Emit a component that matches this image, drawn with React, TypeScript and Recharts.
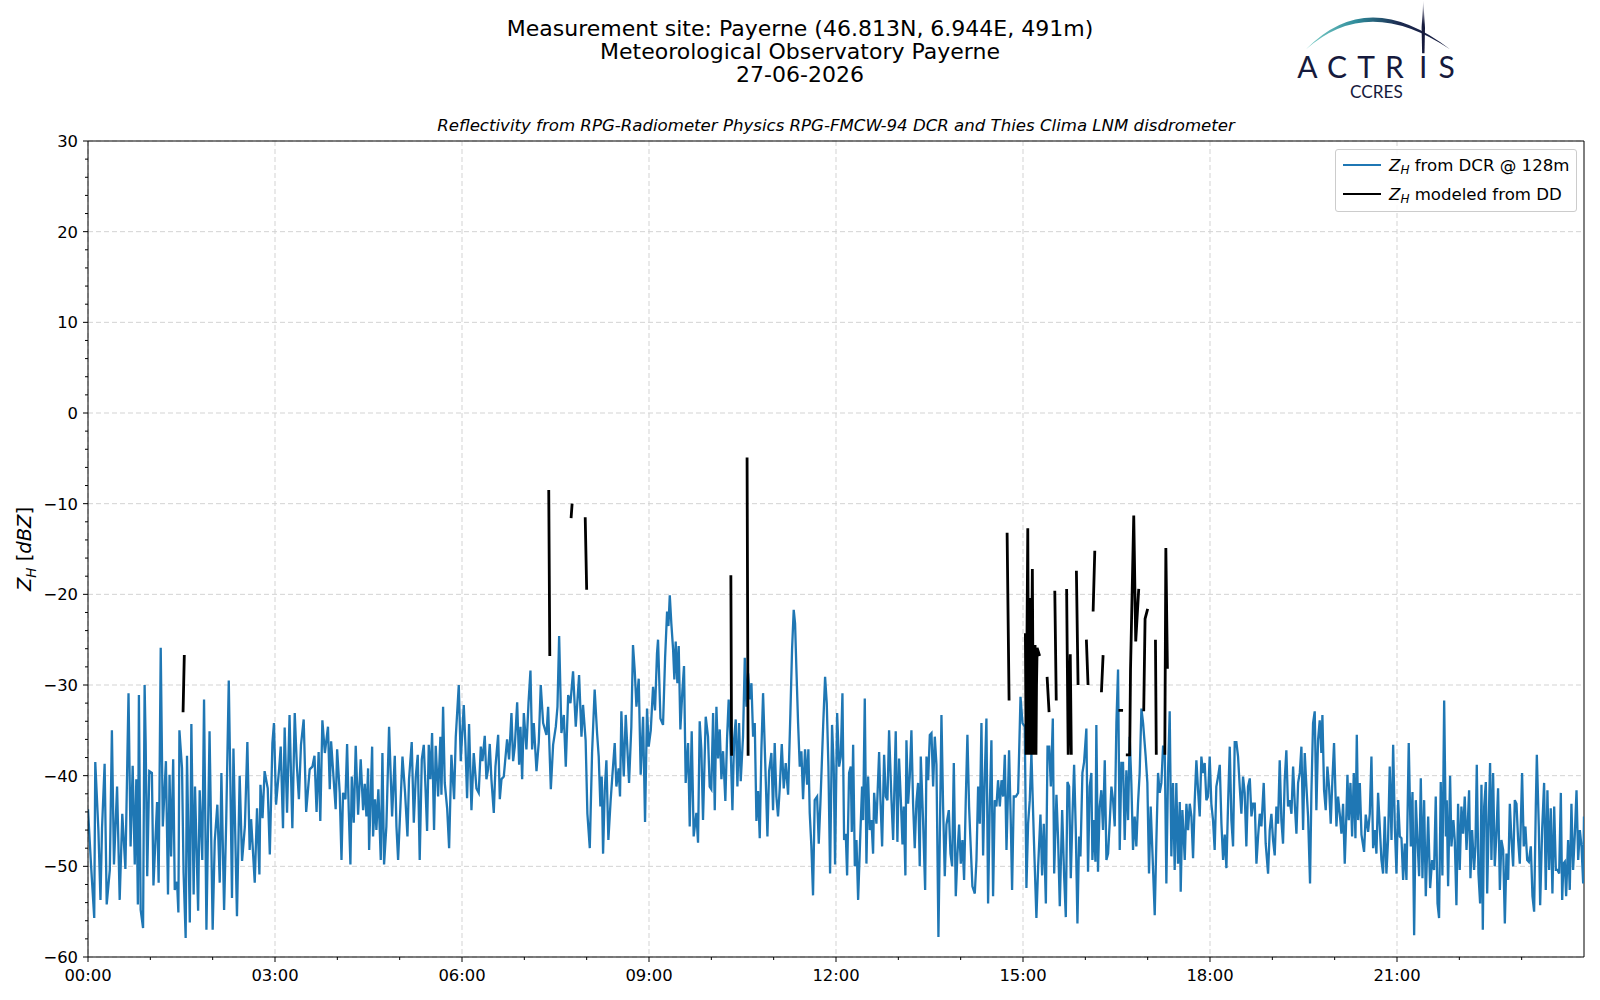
import React from 'react';
import { LineChart, Line, XAxis, YAxis, CartesianGrid, ReferenceLine, Legend } from 'recharts';

const FONT = '"DejaVu Sans", Verdana, sans-serif';
const BLUE = '#1f77b4';
const NAVY = '#161a3d';

// Z_H from the DCR at 128 m: [minutes after 00:00, dBZ]
const dcrNight = [
  [0, -43.7], [3, -50], [6, -55.7], [7, -38.5], [10, -46], [12, -53.7], [13.5, -45.8], [16, -38.7], [18, -54.2], [21, -50.4],
  [23, -35], [25, -49.8], [28, -41.2], [30.5, -53.7], [33, -44.2], [36, -50.3], [39, -30.9], [41, -47.8], [43, -38.9], [45, -49.8],
  [46.5, -40.4], [48, -54.2], [49, -31.1], [50.7, -54.8], [53, -56.8], [54.5, -30], [55.5, -36.3], [57, -51.1], [59, -39.5], [61.5, -39.7],
  [63, -52.1], [66.5, -42.9], [68, -51.8], [70, -25.9], [72, -45.6], [75, -38.4], [77, -53.1], [78.5, -39.9], [80, -48.9], [82, -38.2],
  [83.5, -52.6], [85.7, -51.7], [87, -55.1], [88, -35], [90.5, -39.2], [92, -50.7], [94, -57.9], [95.3, -37.8], [98, -56.2], [99.5, -34.3],
  [101.7, -53.1], [103, -41.2], [106, -54.9], [107.5, -41.6], [110, -49.3], [111.7, -31.6], [114, -57], [115.5, -46.1], [117, -35.1], [120, -57],
  [122, -47.2], [124.5, -43.2], [126.8, -51.8], [128.4, -39.7], [131, -54.8], [133, -45.2], [135.5, -29.5], [137, -40.4], [138.6, -53.5], [140, -37],
  [143.4, -55.5], [146, -40], [148.3, -49.4], [151, -45.6], [153.4, -36.3], [155.6, -48.2], [157, -44.8], [160.5, -51.8], [162.7, -43.6], [165, -50.9],
  [166, -41], [168, -44.7], [170, -39.5], [173, -41.4], [175, -48.7], [177.5, -36.4], [179, -34.2], [181, -43.2], [184, -39.2], [185.5, -36.8],
  [187.7, -45.8], [189.3, -34.7], [191.6, -44.1], [194, -33.3], [196.7, -45.8], [199, -33.1], [201, -38.8], [203, -42.6], [205, -36.6], [207.6, -33.8],
  [210, -44], [213.4, -39.3], [216, -39], [218, -37.8], [220, -44], [222, -37.4], [223.6, -45], [225.6, -33.9], [228, -37.5], [231, -34.6],
  [232.7, -41.5], [234, -36.2], [238.4, -43.7],
];

const dcrMorning = [
  [239.8, -37.1], [242.3, -41.9], [244, -49.3], [245.5, -41.9], [247.8, -42.6], [249.4, -36.5], [251, -43.9], [252.6, -49.8], [253.9, -40.1], [255.8, -45.2],
  [257.7, -36.7], [260, -44.3], [262.5, -38.2], [264.8, -43.8], [266.4, -40.9], [268, -44.5], [269.6, -39.2], [270.6, -48.2], [273.5, -36.8], [274.4, -46.7],
  [276.3, -42.6], [277.6, -46], [279.5, -41.5], [281.8, -49.3], [283.4, -37.5], [285, -49.8], [287.2, -45.6], [289.8, -34.6], [292.7, -44.5], [295.3, -37.8],
  [296.9, -45.6], [298.5, -49.3], [300.7, -43.4], [302.7, -37.9], [305.2, -41.9], [307.5, -46.7], [309, -40.4], [311.6, -36.3], [313.6, -45.2], [315.5, -40.1],
  [317.4, -37.7], [319.3, -49.3], [321.3, -38.2], [323.2, -36.6], [324.8, -41.2], [326.4, -46.1], [328, -36.6], [329.6, -40.4], [331.2, -35.3], [333.1, -46],
  [334.7, -36.7], [337, -42.3], [339.2, -35.7], [340.2, -42.1], [341.8, -32.4], [343.4, -40.8], [345.7, -43.6], [347.6, -48], [349.8, -37.7], [352.4, -42.6],
  [354, -35.7], [356.9, -30], [358.8, -38.4], [361.7, -32.2], [363.3, -36.6], [364.9, -42.5], [366.8, -34.3], [369.1, -43.8], [371.3, -37.5], [373.9, -41.4],
  [376.1, -41.9], [378.1, -36.8], [379.7, -38.4], [381.9, -35.6], [383.5, -40.4], [385.1, -39.3], [386.7, -36.5], [388.3, -40.4], [390.6, -44.1], [392.2, -39],
  [394.8, -35.5], [396.4, -42.6], [398, -40.4], [400.2, -40.1], [403.4, -36], [405.3, -38.2], [407.6, -33.1], [409.2, -38.4], [410.8, -36.8], [413.1, -31.9],
  [415, -38.8], [416.3, -34.6], [417.9, -40.4], [419.5, -33.1], [422, -37.1], [424, -32], [425.9, -28.4], [427.5, -37.1], [429.1, -34.2], [431.7, -39.5],
  [433.9, -36.3], [435.8, -30], [438.1, -34.2], [441.3, -35.5], [442.9, -32.4], [445.5, -41.5], [447.7, -36.6], [450.3, -34.6], [451.9, -32.4], [453.5, -24.6],
  [455.7, -35.3], [458, -33.3], [459.9, -39], [462.2, -31.1], [464.4, -32], [466.9, -28.5], [469.5, -34.6], [472.7, -28.9],
];

const dcrMidday = [
  [475, -35.7], [476.5, -32.2], [479, -36.1], [480.7, -44.2], [483, -48], [485.2, -37.5], [487.7, -30.5], [490, -35.3], [491.6, -37.9], [493.2, -43.4],
  [494.5, -40.1], [495.8, -48.6], [497.4, -41.6], [499, -38.3], [500.9, -47.1], [503.1, -42.7], [504.8, -39.9], [507, -36.4], [508.6, -41.2], [510.8, -39.2],
  [512.1, -42.3], [513.4, -32.9], [515.7, -40.1], [517.6, -33.3], [520.8, -40.8], [523, -34.6], [524.6, -25.6], [526.3, -28.5], [527.9, -32.4], [530.1, -29.3],
  [532, -39.9], [534.3, -33.5], [536.2, -45.1], [538.1, -32.6], [539.7, -36.8], [541.7, -35], [543.9, -30.2], [545.8, -32.8], [547.7, -26.5], [548.7, -25],
  [551, -33.7], [553.5, -34.4], [555.5, -27], [557.4, -21.9], [558.7, -23.5], [560, -20.1], [561.5, -23.2], [563.2, -26.1], [564.4, -29.4], [565.7, -25.2],
  [567.3, -29.8], [568.6, -25.7], [570.2, -34.9], [572.1, -30.7], [573.7, -27.9], [575.3, -40.8], [577.6, -36.4], [579.2, -45.6], [581.1, -35.1], [583, -46.7],
  [585.6, -44.1], [587.2, -47.4], [588.8, -34], [590.4, -37.1], [592, -44.9], [594.6, -33.5], [596.8, -35.7], [598.4, -41.2], [600, -41.5], [601.7, -33.1],
  [603.3, -43.8], [604.9, -32.4], [606.5, -38.1], [608.1, -34.9], [609.7, -40.4], [611.3, -37.3], [613.5, -42.8], [615.1, -36], [616.7, -31.6], [618.3, -35.7],
  [620.3, -43.8], [621.9, -36], [623.5, -33.8], [625.1, -41.2], [626.7, -34.2], [628.3, -40.6], [630.5, -35.7], [632.2, -27], [633.8, -32.4], [635.4, -28.7],
  [637, -31.6], [638.6, -29.8], [640.2, -35.7], [641.8, -34.2], [643.4, -45], [645, -41.7], [646.6, -46.9], [648.2, -37.1], [649.8, -30.9], [652, -39],
  [654, -46.7], [655.6, -39.5], [657.8, -37.5], [659.4, -43.8], [661, -36.4], [662.6, -42.3], [664.2, -44.5], [665.8, -41.5], [667.8, -36.5], [669.7, -41.4],
  [671.6, -38.6], [673.9, -42.1], [676.1, -33.1], [677.7, -26.1], [679.3, -21.7], [680.6, -23.2], [681.9, -28.3], [683.5, -34.2], [685.1, -39], [686.7, -37.3],
  [688.3, -42.6], [690.2, -37.1], [692.2, -41], [693.4, -37.1], [694.7, -44.1], [696.3, -47.8], [697.9, -53.2], [699.5, -42.7], [701.8, -42.3], [703.4, -47.5],
  [705, -43], [707.6, -34.6], [709.5, -29.1], [711.1, -32], [712.7, -39], [714.3, -50.8], [716.2, -34.4], [717.8, -39],
];

const dcrAfternoon = [
  [719.1, -49.8], [721.1, -33.1], [723, -39], [724.6, -37.9], [726.2, -30.9], [727.8, -47.1], [729.4, -46.4], [730.7, -51], [732.6, -39.7], [734.2, -39],
  [735.2, -46.2], [736.5, -36.6], [738.1, -50], [739.7, -47.1], [741.3, -53.7], [743.5, -46.2], [745.1, -41.2], [746.1, -44.9], [747.7, -31.5], [749.3, -49.7],
  [750.9, -40.1], [752.5, -46], [754.1, -44.9], [755.7, -48.6], [756.7, -41.9], [758.9, -45.3], [761.5, -37.4], [762.8, -42.7], [764.4, -47.8], [766.3, -37.7],
  [767.9, -42.3], [769.5, -42.7], [771.1, -35], [773.4, -42.7], [775, -47.1], [777.5, -35.1], [779.1, -47.3], [780.7, -38.1], [782.4, -42.7], [784, -47.6],
  [785.2, -43.4], [786.8, -51], [787.8, -36.1], [789.4, -43.1], [791, -40.1], [792.6, -35], [794.2, -43.1], [795.8, -48], [797.4, -42.9], [799, -40.8],
  [800.6, -50], [801.6, -37.9], [803.8, -44.9], [805.8, -52.6], [807.1, -37.9], [808.7, -40.5], [810.3, -35.5], [811.9, -35.3], [813.5, -41.2], [815.1, -35.7],
  [816.7, -38.8], [818.6, -57.8], [819.9, -47.1], [821.5, -33.3], [823.1, -43.4], [824.7, -51.1], [826.3, -45.4], [828.6, -43.8], [830.2, -48.6], [831.8, -50],
  [833.4, -38.6], [835.3, -53.3], [836.9, -48.6], [838.5, -45.4], [840.1, -49.7], [841.7, -47.1], [843.3, -51.5], [844.9, -42.7], [846.5, -35.5], [848.1, -43.4],
  [849.4, -47.1], [851.3, -52.2], [853.6, -53], [855.2, -49.3], [856.8, -41.2], [858.4, -45.3], [860, -34.2], [861.6, -48.8], [863.2, -40.1], [864.8, -33.7],
  [866.4, -54.1], [868, -43.4], [869.6, -36.1], [871.2, -53.3], [872.8, -42.7], [874.4, -43.4], [876, -40.5], [877.7, -43.4], [879.3, -40.5], [880.9, -42.3],
  [882.5, -37.7], [884.1, -48.2], [886.6, -37.2], [888.2, -44.9], [889.5, -52.6], [891.1, -42.3], [893.1, -42.3], [895.3, -41.9], [897.6, -31.3], [899.5, -34.2],
  [901.7, -34.6], [903.3, -52.4], [904.9, -45.3], [906.5, -42.7], [908.1, -37.5], [910.4, -46.7], [912.9, -55.7], [914.6, -50], [916.8, -44.3], [918.4, -51],
  [920, -45.3], [922, -54.1], [923.6, -36.8], [925.2, -36.8], [926.8, -41.2], [928.7, -33.7], [930, -50.8], [932.2, -42.1], [933.8, -47.1], [935.4, -54.4],
  [937.7, -43.8], [939.6, -51.1], [941.2, -55.6], [942.8, -40.7], [944.4, -41.2], [946, -51.3], [947.6, -44.5], [949.2, -38.8], [950.8, -46], [952.4, -56.3],
  [954, -46.7], [955.3, -48.9], [957.2, -39.7], [958.8, -38.5],
];

const dcrEvening = [
  [961, -34.8], [962.6, -50.6], [964.2, -41.2], [965.8, -39.7], [966.8, -49.3], [968.4, -44.9], [969.7, -49.5], [970.6, -34.4], [972.2, -50.6], [973.8, -43.4],
  [975.4, -41.6], [977, -46], [978.7, -38.3], [980.3, -49.3], [981.9, -48.6], [983.5, -45.1], [985.1, -41.2], [986.7, -42.7], [988.3, -45.6], [989.9, -34.2],
  [991.5, -28.3], [993.1, -48.2], [994.7, -38.6], [996.3, -38.6], [997.9, -47.1], [999.5, -39.4], [1001.1, -44.9], [1002.7, -35.7], [1004.3, -40.8], [1005.9, -48.2],
  [1007.5, -44.5], [1009.1, -47.8], [1010.7, -43.1], [1012.3, -39.7], [1014, -32.6], [1015.6, -34.2], [1018.1, -37.9], [1019.7, -40.8], [1021.3, -50.8], [1022.9, -43.4],
  [1024.5, -48.2], [1026.8, -55.4], [1028.4, -47.1], [1030, -39.7], [1031.6, -41.9], [1033.2, -40.8], [1034.8, -36.8], [1036.4, -36.8], [1038, -51.9], [1039.6, -39.7],
  [1041.2, -32.9], [1042.8, -48.9], [1044.4, -40.8], [1046, -50.4], [1047.6, -40.8], [1049.2, -49.7], [1050.9, -42.9], [1051.8, -52.8], [1053.4, -43.8], [1055.7, -49.3],
  [1057.3, -43.1], [1058.9, -46], [1060.5, -43.1], [1062.1, -44.5], [1063.7, -49.1], [1065.3, -42.7], [1066.9, -38.3], [1068.5, -41.6], [1070.1, -44.5], [1071.7, -37.9],
  [1073.3, -39.7], [1074.9, -38.6], [1076.5, -42.7], [1078.1, -42.3], [1079.7, -37.9], [1081.3, -43.1], [1082.9, -44.9], [1084.5, -48.2], [1086.1, -41.2], [1087.8, -40.1],
  [1089.4, -38.8], [1091, -45.3], [1092.6, -49.3], [1094.2, -46.5], [1095.8, -50.2], [1097.4, -43.1], [1099, -36.8], [1100.6, -44.9], [1102.2, -47.8], [1103.8, -36.3],
  [1105.4, -36.3], [1107, -37.9], [1108.6, -41.2], [1110.2, -44.2], [1111.8, -40.1], [1113.4, -41.9], [1115, -47.8], [1116.6, -41.2], [1118.3, -40.3], [1119.9, -44.5],
  [1121.5, -43.1], [1123.1, -43.1], [1124.7, -49.7], [1126.3, -46.7], [1127.9, -44.2], [1129.5, -45.6], [1131.7, -40.8], [1133.6, -47.5], [1135.9, -50.8], [1137.5, -46],
  [1139.1, -44.2], [1140.7, -47.1], [1142.3, -48.8], [1143.9, -43.4], [1145.5, -45.3], [1147.1, -38.3], [1148.7, -44.9], [1150.3, -47.5], [1151.9, -40.5], [1153.5, -37.2],
  [1155.1, -43.4], [1156.7, -42.7], [1158.4, -44.2], [1160, -39], [1161.6, -43.1], [1163.2, -46.4], [1164.8, -40.8], [1166.4, -39.7], [1168, -36.8], [1169.6, -46],
  [1171.2, -37.5], [1172.8, -41.2], [1174.4, -44.5], [1176.3, -51.9], [1177.6, -41.9], [1179.2, -34.2], [1180.8, -32.9], [1182.4, -43.8], [1184, -36.1], [1185.6, -33.9],
  [1187.2, -37.5], [1188.2, -33.3], [1189.8, -41.6], [1191.4, -43.8], [1193, -39], [1194.6, -41.2], [1196.2, -45.3], [1197.8, -40.5], [1199.4, -36.4],
];

const dcrLate = [
  [1201.7, -45.6], [1203.3, -42.3], [1204.9, -44.2], [1206.5, -46.4], [1208.1, -43.1], [1209.7, -49.7], [1211.3, -44.2], [1212.3, -39.9], [1213.6, -44.9], [1215.2, -40.8],
  [1216.8, -46.7], [1218.4, -39.7], [1220, -46.9], [1221.3, -35.5], [1222.6, -44.9], [1224.2, -40.8], [1225.8, -46.5], [1228.3, -48.4], [1229.9, -44.3], [1232.2, -46.2],
  [1233.8, -44.2], [1235.4, -37.9], [1237, -48], [1238.6, -46], [1240.2, -48.6], [1241.8, -41.9], [1243.4, -45.6], [1245, -49.3], [1246.6, -50.8], [1248.2, -44.5],
  [1249.8, -50.8], [1251.4, -47.1], [1253, -39], [1254.7, -47.1], [1256.3, -36.6], [1257.9, -45.6], [1259.5, -50.8], [1261.1, -42.7], [1262.7, -46.7], [1264.3, -46.9],
  [1265.9, -51.5], [1267.5, -47.5], [1269.1, -51.5], [1271.3, -36.4], [1273.3, -47.8], [1274.9, -41.8], [1276.5, -57.6], [1278.1, -42.7], [1279.7, -47.1], [1281.3, -51.1],
  [1282.9, -40.3], [1284.5, -51.3], [1286.1, -42.7], [1287.7, -53.3], [1290, -44.5], [1291.9, -52.4], [1293.8, -49.3], [1295.7, -50.4], [1297.3, -42.3], [1299, -54.1],
  [1300.5, -55.7], [1302.1, -40.7], [1303.7, -51], [1305.4, -31.7], [1307, -46.7], [1307.9, -42.7], [1309.2, -52.2], [1311.1, -40], [1312.4, -47.8], [1314.3, -44.9],
  [1315.6, -47.1], [1317.2, -54.3], [1318.8, -43.1], [1320.4, -50.4], [1322, -43.4], [1323.6, -46.4], [1325.2, -42.3], [1326.9, -48.2], [1328.5, -44.2], [1329.4, -41.6],
  [1330.7, -51.3], [1332.3, -46], [1334.2, -50.4], [1335.5, -47.8], [1336.8, -38.8], [1338.4, -50.8], [1340, -54.1], [1341.3, -41], [1342.6, -57], [1343.9, -43.4],
  [1345.5, -40.7], [1346.8, -53], [1348, -46.4], [1349.6, -38.6], [1350.9, -49.3], [1352.5, -39.7], [1354.1, -50], [1355.7, -46.4], [1357.3, -41.4], [1359, -52.6],
  [1360.5, -47.1], [1362.2, -48.2], [1363.8, -56.3], [1365.4, -48.6], [1367, -51.5], [1368.6, -43.1], [1370.2, -47.1], [1371.8, -50], [1373.4, -42.7], [1375, -43.1],
  [1376.6, -47.1], [1378.2, -49.7], [1380.4, -39.7], [1382, -47.8], [1383.6, -45.6], [1385.3, -49.3], [1386.9, -49.5], [1388.8, -47.8], [1390.4, -53.3], [1392, -55],
  [1393.6, -43.4], [1394.6, -37.7], [1396.5, -45.6], [1397.8, -54.3], [1399.7, -46], [1401.6, -40.8], [1403.2, -52.6], [1404.8, -41.6], [1406.4, -50.4], [1408, -43.6],
  [1409.6, -53], [1411.3, -43.4], [1412.9, -50.4], [1414.5, -50.4], [1416.1, -50.8], [1417.7, -41.9], [1419, -53.7], [1420.2, -49.7], [1421.5, -49.5], [1422.8, -53.3],
  [1424.7, -47.1], [1426.3, -52.6], [1427.9, -43.1], [1429.5, -50.4], [1431.2, -46.4], [1432.8, -41.6], [1434.4, -49.3], [1436, -46], [1437.6, -47.8], [1439.2, -51.9],
  [1440, -44.5],
];

// Z_H modeled from the disdrometer: only present during rain, one list per continuous piece
const ddSegments = [
  [[91.5, -33], [92.7, -26.7]],
  [[443.5, -8.5], [444.5, -26.8]],
  [[465, -11.6], [466, -10]],
  [[478.6, -11.5], [480, -19.5]],
  [[618.8, -17.9], [619.5, -37.8]],
  [[634.4, -4.9], [635.4, -37.8]],
  [[884.7, -13.2], [886.6, -31.7]],
  [[902.3, -24.3], [903, -37.7], [904.6, -12.7], [905.5, -37.7], [906.5, -20.4], [907.5, -37.7], [909, -17.2], [910, -37.7],
   [911.6, -25.6], [912.5, -37.7], [913, -30], [913.6, -25.9], [916, -26.8]],
  [[923.2, -29.1], [925.1, -33]],
  [[930.6, -19.6], [932, -31.7]],
  [[942, -19.4], [943.5, -37.7], [945.5, -26.6], [946.5, -37.7]],
  [[951.4, -17.4], [953, -30]],
  [[961, -25], [962.6, -30]],
  [[967.5, -21.9], [969.1, -15.2]],
  [[975.5, -30.8], [977.1, -26.7]],
  [[991.9, -32.8], [996.3, -32.8]],
  [[999, -37.7], [1002.7, -37.7], [1003.5, -28.3], [1006.6, -11.3], [1008.5, -25.2], [1011.4, -19.4]],
  [[1016.2, -32.9], [1017.5, -22.7], [1020, -21.6]],
  [[1027.5, -25], [1028.3, -37.7]],
  [[1036.5, -37.7], [1037.5, -14.9], [1039, -28.2]],
];

const hourTicks = [0, 60, 120, 180, 240, 300, 360, 420, 480, 540, 600, 660, 720, 780, 840, 900, 960, 1020, 1080, 1140, 1200, 1260, 1320, 1380];
const timeLabels = ['00:00', '03:00', '06:00', '09:00', '12:00', '15:00', '18:00', '21:00'];
const gridTimes = [0, 180, 360, 540, 720, 900, 1080, 1260];
const dbzTicks = [
  -60, -58, -56, -54, -52, -50, -48, -46, -44, -42, -40, -38, -36, -34, -32, -30, -28, -26, -24, -22, -20, -18, -16,
  -14, -12, -10, -8, -6, -4, -2, 0, 2, 4, 6, 8, 10, 12, 14, 16, 18, 20, 22, 24, 26, 28, 30,
];
const gridDbz = [-60, -50, -40, -30, -20, -10, 0, 10, 20, 30];

const dcrData = [...dcrNight, ...dcrMorning, ...dcrMidday, ...dcrAfternoon, ...dcrEvening, ...dcrLate].map(([t, z]) => ({ t, z }));
const ddData = ddSegments.flatMap((seg, i) => [
  ...(i > 0 ? [{ t: seg[0][0] - 0.05, z: null as number | null }] : []),
  ...seg.map(([t, z]) => ({ t, z: z as number | null })),
]);

const TimeTick = (props: any) => {
  const { x, y, payload } = props;
  const major = payload.value % 180 === 0;
  return (
    <g>
      <line x1={x} x2={x} y1={y} y2={y + (major ? 5 : 3)} stroke="#000" strokeWidth={1} />
      {major && (
        <text x={x} y={y + 23.5} textAnchor="middle" fontSize={16.4} fontFamily={FONT} fill="#000">
          {timeLabels[payload.value / 180]}
        </text>
      )}
    </g>
  );
};

const DbzTick = (props: any) => {
  const { x, y, payload } = props;
  const v = payload.value;
  const major = v % 10 === 0;
  return (
    <g>
      <line x1={x - (major ? 5 : 3)} x2={x} y1={y} y2={y} stroke="#000" strokeWidth={1} />
      {major && (
        <text x={x - 10} y={y} dy="0.36em" textAnchor="end" fontSize={16.4} fontFamily={FONT} fill="#000">
          {v < 0 ? `\u2212${-v}` : `${v}`}
        </text>
      )}
    </g>
  );
};

const LegendBox = () => {
  const row = (color: string, text: string, top: number) => (
    <div style={{ position: 'absolute', left: 0, top, height: 22, display: 'flex', alignItems: 'center' }}>
      <div style={{ width: 38, height: 0, borderTop: `2.4px solid ${color}`, marginLeft: 7, marginRight: 8 }} />
      <span style={{ fontFamily: FONT, fontSize: 16.6, color: '#000', whiteSpace: 'nowrap' }}>
        <i>Z</i>
        <i style={{ fontSize: 12, position: 'relative', top: 3 }}>H</i>
        {text}
      </span>
    </div>
  );
  return (
    <div
      style={{
        position: 'relative',
        width: 242,
        height: 63,
        boxSizing: 'border-box',
        border: '1px solid #cccccc',
        borderRadius: 3,
        background: 'rgba(255,255,255,0.85)',
      }}
    >
      {row(BLUE, ' from DCR @ 128m', 4)}
      {row('#000', ' modeled from DD', 33)}
    </div>
  );
};

const Decorations = () => (
  <svg width={1600} height={1000} style={{ position: 'absolute', left: 0, top: 0, pointerEvents: 'none' }}>
    <defs>
      <linearGradient id="arcGrad" x1="1306" y1="0" x2="1450" y2="0" gradientUnits="userSpaceOnUse">
        <stop offset="0" stopColor="#7fd0c8" />
        <stop offset="0.35" stopColor="#2f8c9b" />
        <stop offset="0.65" stopColor="#1c2a50" />
        <stop offset="1" stopColor={NAVY} />
      </linearGradient>
      <linearGradient id="barGrad" x1="0" y1="0" x2="0" y2="54" gradientUnits="userSpaceOnUse">
        <stop offset="0" stopColor={NAVY} stopOpacity="0.1" />
        <stop offset="0.45" stopColor={NAVY} stopOpacity="1" />
        <stop offset="1" stopColor={NAVY} stopOpacity="1" />
      </linearGradient>
    </defs>

    <g fontFamily={FONT} fill="#000" textAnchor="middle" fontSize={22}>
      <text x={800} y={35.5}>Measurement site: Payerne (46.813N, 6.944E, 491m)</text>
      <text x={800} y={58.8}>Meteorological Observatory Payerne</text>
      <text x={800} y={82.1}>27-06-2026</text>
    </g>
    <text x={836} y={131} textAnchor="middle" fontSize={16.6} fontStyle="italic" fontFamily={FONT} fill="#000">
      Reflectivity from RPG-Radiometer Physics RPG-FMCW-94 DCR and Thies Clima LNM disdrometer
    </text>

    <text transform="translate(24,549) rotate(-90)" textAnchor="middle" dy="0.36em" fontSize={19.5} fontFamily={FONT} fill="#000">
      <tspan fontStyle="italic">Z</tspan>
      <tspan fontStyle="italic" fontSize={13.5} dy={4.5}>H</tspan>
      <tspan dy={-4.5}>{' ['}</tspan>
      <tspan fontStyle="italic">dBZ</tspan>
      <tspan>]</tspan>
    </text>

    {/* ACTRIS / CCRES logo */}
    <path d="M1306 49.3 Q1368 -14.4 1450 49.3 Q1368 -6 1306 49.3 Z" fill="url(#arcGrad)" />
    <path d="M1423.3 0.5 L1425 28 L1424.5 53.3 L1422.1 53.3 L1421.6 28 Z" fill="url(#barGrad)" />
    <g fontFamily="Lato, 'DejaVu Sans', sans-serif" fontSize={30} fill={NAVY} textAnchor="middle">
      <text x={1307.5} y={78.3}>A</text>
      <text x={1337} y={78.3}>C</text>
      <text x={1366} y={78.3}>T</text>
      <text x={1394.5} y={78.3}>R</text>
      <text x={1423.3} y={78.3}>I</text>
      <text x={1446.7} y={78.3}>S</text>
    </g>
    <text x={1350} y={98.3} fontFamily="Lato, 'DejaVu Sans', sans-serif" fontSize={17} fill={NAVY} textLength={52.7} lengthAdjust="spacingAndGlyphs">
      CCRES
    </text>
  </svg>
);

export default function App() {
  return (
    <div style={{ position: 'absolute', left: 0, top: 0, width: 1600, height: 1000, overflow: 'hidden', background: '#fff' }}>
      <LineChart width={1600} height={1000} margin={{ top: 141, right: 16, bottom: 13, left: 28 }}>
        <CartesianGrid
          stroke="#d3d3d3"
          strokeDasharray="5 3"
          horizontalValues={gridDbz}
          verticalValues={gridTimes}
        />
        <XAxis
          type="number"
          dataKey="t"
          domain={[0, 1440]}
          ticks={hourTicks}
          interval={0}
          tick={<TimeTick />}
          tickLine={false}
          tickSize={0}
          tickMargin={0}
          axisLine={{ stroke: '#000', strokeWidth: 1 }}
          height={30}
          allowDataOverflow
        />
        <YAxis
          type="number"
          domain={[-60, 30]}
          ticks={dbzTicks}
          interval={0}
          tick={<DbzTick />}
          tickLine={false}
          tickSize={0}
          tickMargin={0}
          axisLine={{ stroke: '#000', strokeWidth: 1 }}
          width={60}
          allowDataOverflow
        />
        <ReferenceLine y={30} stroke="#000" strokeWidth={1} />
        <ReferenceLine x={1440} stroke="#000" strokeWidth={1} />
        <Line
          data={dcrData}
          dataKey="z"
          name="DCR"
          type="linear"
          stroke={BLUE}
          strokeWidth={2.3}
          dot={false}
          activeDot={false}
          isAnimationActive={false}
        />
        <Line
          data={ddData}
          dataKey="z"
          name="DD"
          type="linear"
          stroke="#000"
          strokeWidth={2.8}
          dot={false}
          activeDot={false}
          connectNulls={false}
          isAnimationActive={false}
        />
        <Legend
          layout="vertical"
          align="center"
          verticalAlign="middle"
          content={() => <LegendBox />}
          wrapperStyle={{ left: 1335, top: 149, width: 242, height: 63 }}
        />
      </LineChart>
      <Decorations />
    </div>
  );
}
